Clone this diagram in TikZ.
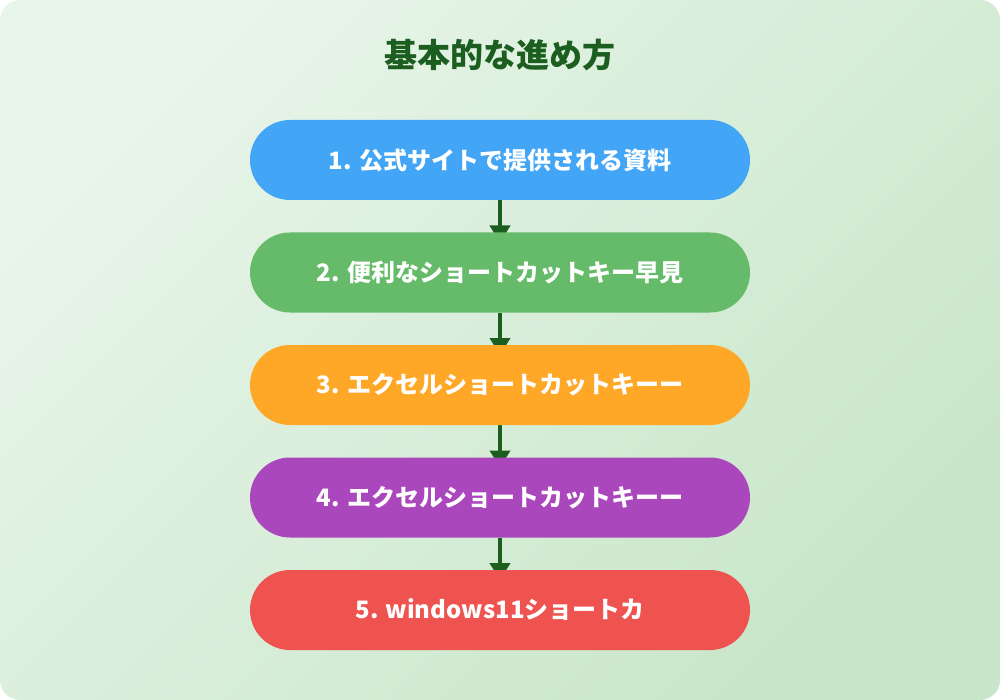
\documentclass[tikz,border=0pt]{standalone}
\usepackage{fontspec}
\setmainfont{Noto Sans CJK JP}
\usetikzlibrary{positioning,arrows.meta}
\pgfdeclarelayer{bg}
\pgfdeclarelayer{links}
\pgfsetlayers{bg,links,main}
\definecolor{bgA}{HTML}{E8F5E9}
\definecolor{bgB}{HTML}{C8E6C9}
\definecolor{titlegreen}{HTML}{1B5E20}
\definecolor{stepblue}{HTML}{42A5F5}
\definecolor{stepgreen}{HTML}{66BB6A}
\definecolor{steporange}{HTML}{FFA726}
\definecolor{steppurple}{HTML}{AB47BC}
\definecolor{stepred}{HTML}{EF5350}
\begin{document}
\begin{tikzpicture}[x=1pt, y=-1pt, inner sep=0pt, outer sep=0pt,
    pill/.style={rounded corners=40pt, minimum width=500pt, minimum height=80pt,
      text=white, font=\fontsize{24}{29}\selectfont\bfseries},
    link/.style={draw=titlegreen, line width=4pt,
      -{Triangle[width=20pt,length=17pt]}, shorten >=-10pt}]
\useasboundingbox (0,0) rectangle (1000,700);
\begin{pgfonlayer}{bg}
  \shade[top color=bgA, bottom color=bgB, shading angle=45, rounded corners=20pt]
    (0,0) rectangle (1000,700);
\end{pgfonlayer}
  \node[text=titlegreen, font=\fontsize{33}{39}\selectfont\bfseries] (title) at (500,55) {基本的な進め方};
  \node[pill, fill=stepblue] (s1) at (500,160) {1. 公式サイトで提供される資料};
  \node[pill, fill=stepgreen, below=32.5pt of s1] (s2) {2. 便利なショートカットキー早見};
  \node[pill, fill=steporange, below=32.5pt of s2] (s3) {3. エクセルショートカットキーー};
  \node[pill, fill=steppurple, below=32.5pt of s3] (s4) {4. エクセルショートカットキーー};
  \node[pill, fill=stepred, below=32.5pt of s4] (s5) {5. windows11ショートカ};
\begin{pgfonlayer}{links}
  \foreach \a/\b in {s1/s2,s2/s3,s3/s4,s4/s5}
    \draw[link] (\a.south) -- (\b.north);
\end{pgfonlayer}
\end{tikzpicture}
\end{document}
